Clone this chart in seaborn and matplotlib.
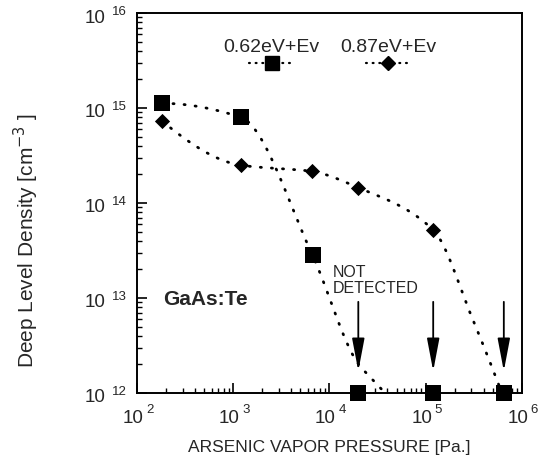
import numpy as np
import pandas as pd
import matplotlib
matplotlib.use("Agg")
import matplotlib.pyplot as plt
from matplotlib.ticker import LogLocator, NullFormatter, FixedLocator
import seaborn as sns

# Measured deep level densities (cm^-3) versus arsenic vapor pressure (Pa)
pressure_062 = [182, 1.2e3, 6.7e3, 2.0e4, 1.2e5, 6.5e5]
density_062 = [1.12e15, 8.0e14, 2.8e13, 1.0e12, 1.0e12, 1.0e12]
pressure_087 = [182, 1.2e3, 6.6e3, 2.0e4, 1.2e5]
density_087 = [7.3e14, 2.5e14, 2.15e14, 1.45e14, 5.2e13]

# Trend curves (guide to the eye), drawn down to the detection limit
trend_x_062 = [182, 1.2e3, 6.7e3, 1.95e4, 2.6e4, 3.8e4]
trend_y_062 = [1.12e15, 8.0e14, 2.8e13, 2.1e12, 1.5e12, 1.0e12]
trend_x_087 = [182, 1.2e3, 6.6e3, 2.0e4, 1.2e5, 3.1e5, 6.2e5]
trend_y_087 = [7.3e14, 2.5e14, 2.15e14, 1.45e14, 5.2e13, 5.9e12, 1.0e12]

# "Not detected" arrows
nd_pressure = [2.0e4, 1.2e5, 6.5e5]
arrow_top, arrow_bottom = 9.1e12, 1.7e12

labels = ["0.62eV+Ev", "0.87eV+Ev"]
x_exponents = [2, 3, 4, 5, 6]
y_exponents = [12, 13, 14, 15, 16]

PX = 72.0 / 100.0  # points per pixel at 100 dpi


def pchip_log(xs, ys, n=400):
    """Monotone cubic (PCHIP) curve through the points in log-log space."""
    x = np.log10(xs)
    y = np.log10(ys)
    h = np.diff(x)
    d = np.diff(y) / h
    m = np.zeros_like(x)
    for k in range(1, len(x) - 1):
        if d[k - 1] * d[k] > 0:
            w1 = 2 * h[k] + h[k - 1]
            w2 = h[k] + 2 * h[k - 1]
            m[k] = (w1 + w2) / (w1 / d[k - 1] + w2 / d[k])
    for k in (0, len(x) - 1):
        hh0, hh1 = (h[0], h[1]) if k == 0 else (h[-1], h[-2])
        dd0, dd1 = (d[0], d[1]) if k == 0 else (d[-1], d[-2])
        v = ((2 * hh0 + hh1) * dd0 - hh0 * dd1) / (hh0 + hh1)
        if np.sign(v) != np.sign(dd0):
            v = 0.0
        elif np.sign(dd0) != np.sign(dd1) and abs(v) > abs(3 * dd0):
            v = 3 * dd0
        m[k] = v
    xn = np.linspace(x[0], x[-1], n)
    idx = np.clip(np.searchsorted(x, xn) - 1, 0, len(x) - 2)
    t = (xn - x[idx]) / h[idx]
    h00 = 2 * t ** 3 - 3 * t ** 2 + 1
    h10 = t ** 3 - 2 * t ** 2 + t
    h01 = -2 * t ** 3 + 3 * t ** 2
    h11 = t ** 3 - t ** 2
    yn = (h00 * y[idx] + h10 * h[idx] * m[idx]
          + h01 * y[idx + 1] + h11 * h[idx] * m[idx + 1])
    return 10 ** xn, 10 ** yn


sns.set_style("ticks")
plt.rcParams["font.family"] = ["Liberation Sans", "DejaVu Sans"]

fig = plt.figure(figsize=(5.43, 4.65), dpi=100)
ax = fig.add_axes([0.252, 0.155, 0.709, 0.817])
ax.set_xscale("log")
ax.set_yscale("log")
ax.set_xlim(1e2, 1e6)
ax.set_ylim(1e12, 1e16)

dots = dict(color="black", linestyle=(0, (0.4, 3.6)), linewidth=2.0,
            dash_capstyle="round", zorder=2)
cx, cy = pchip_log(trend_x_062, trend_y_062)
ax.plot(cx, cy, **dots)
cx, cy = pchip_log(trend_x_087, trend_y_087)
ax.plot(cx, cy, **dots)

df062 = pd.DataFrame({"p": pressure_062, "n": density_062})
df087 = pd.DataFrame({"p": pressure_087, "n": density_087})
sns.scatterplot(data=df062, x="p", y="n", marker="s", s=130, color="black",
                edgecolor="black", linewidth=0, ax=ax, zorder=4, clip_on=False)
sns.scatterplot(data=df087, x="p", y="n", marker="D", s=60, color="black",
                edgecolor="black", linewidth=0, ax=ax, zorder=4, clip_on=False)

for xp in nd_pressure:
    ax.annotate("", xy=(xp, arrow_bottom), xytext=(xp, arrow_top),
                arrowprops=dict(arrowstyle="-|>,head_length=2.0,head_width=0.38",
                                color="black", lw=1.3, shrinkA=0, shrinkB=0))

ax.text(1.09e4, 1.13e13, "NOT\nDETECTED", fontsize=11.5,
        ha="left", va="baseline", linespacing=1.1)
ax.text(0.068, 0.245, "GaAs:Te", transform=ax.transAxes, fontsize=15,
        fontweight="bold", ha="left", va="center")

# Legend: label above a marker with dotted leaders
for xf, lab, mk, ms in [(0.35, labels[0], "s", 10), (0.652, labels[1], "D", 7)]:
    ax.text(xf, 0.908, lab, transform=ax.transAxes, fontsize=14,
            ha="center", va="center")
    ax.plot([xf - 0.058, xf + 0.058], [0.868, 0.868], transform=ax.transAxes,
            color="black", linestyle=(0, (0.4, 2.6)), linewidth=1.6,
            dash_capstyle="round")
    ax.plot([xf], [0.868], transform=ax.transAxes, marker=mk, markersize=ms,
            color="black", linestyle="none")

# Ticks: inward, decade labels written as "10" with a raised exponent
ax.xaxis.set_major_locator(FixedLocator([10.0 ** e for e in x_exponents]))
ax.xaxis.set_minor_locator(LogLocator(base=10, subs=np.arange(2, 10)))
ax.yaxis.set_major_locator(FixedLocator([10.0 ** e for e in y_exponents]))
ax.yaxis.set_minor_locator(LogLocator(base=10, subs=np.arange(2, 10)))
ax.xaxis.set_minor_formatter(NullFormatter())
ax.yaxis.set_minor_formatter(NullFormatter())
ax.tick_params(which="both", direction="in", top=False, right=False,
               labelbottom=False, labelleft=False, color="black")
ax.tick_params(which="major", length=7, width=1.2)
ax.tick_params(which="minor", length=3.5, width=1.0)

base_fs, exp_fs = 13.5, 9.5
for e in x_exponents:
    tr = ax.get_xaxis_transform()
    ax.annotate("10", xy=(10.0 ** e, 0), xycoords=tr,
                xytext=(-4 * PX, -26 * PX), textcoords="offset points",
                ha="center", va="center", fontsize=base_fs, annotation_clip=False)
    ax.annotate(str(e), xy=(10.0 ** e, 0), xycoords=tr,
                xytext=(9 * PX, -20 * PX), textcoords="offset points",
                ha="left", va="baseline", fontsize=exp_fs, annotation_clip=False)
for e in y_exponents:
    tr = ax.get_yaxis_transform()
    ax.annotate("10", xy=(0, 10.0 ** e), xycoords=tr,
                xytext=(-31 * PX, -5 * PX), textcoords="offset points",
                ha="right", va="center", fontsize=base_fs, annotation_clip=False)
    ax.annotate(str(e), xy=(0, 10.0 ** e), xycoords=tr,
                xytext=(-10 * PX, -2 * PX), textcoords="offset points",
                ha="right", va="baseline", fontsize=exp_fs, annotation_clip=False)

for sp in ax.spines.values():
    sp.set_linewidth(1.4)
    sp.set_color("black")

ax.set_xlabel("ARSENIC VAPOR PRESSURE [Pa.]", fontsize=12.5)
ax.xaxis.set_label_coords(0.5, -0.125)
ax.set_ylabel(r"Deep Level Density [cm$^{-3}$ ]", fontsize=15)
ax.yaxis.set_label_coords(-0.25, 0.40)

fig.savefig("out.png", dpi=100)
